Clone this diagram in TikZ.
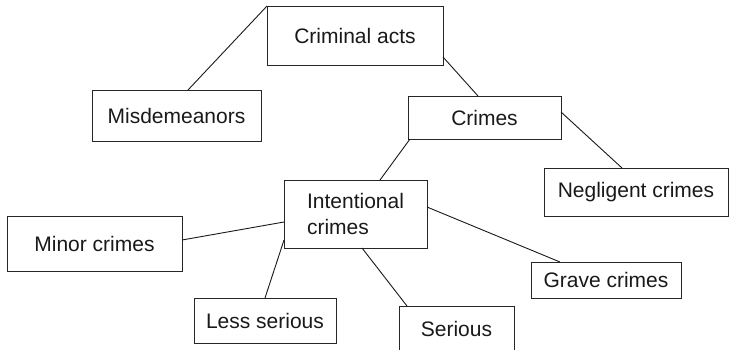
\documentclass[tikz,border=0pt]{standalone}
\usepackage{fontspec}
\setmainfont{Liberation Sans}
\begin{document}
\begin{tikzpicture}[x=1pt,y=-1pt,
  box/.style={draw=black!85,line width=1pt,rectangle,inner sep=0pt,outer sep=0pt,
    font=\fontsize{21}{26}\selectfont,text=black!90},
  link/.style={draw=black!90,line width=0.9pt}]
\useasboundingbox (0,0) rectangle (730,349);
\clip (0,0) rectangle (730,349);
\node[box,minimum width=176pt,minimum height=59pt] (acts) at (355,35.5) {Criminal acts};
\node[box,minimum width=169pt,minimum height=51pt] (mis) at (176.5,115.5) {Misdemeanors};
\node[box,minimum width=153pt,minimum height=43pt] (crimes) at (484.5,117.5) {Crimes};
\node[box,minimum width=184pt,minimum height=48pt] (neg) at (636,192) {Negligent crimes};
\node[box,minimum width=143pt,minimum height=68pt,align=left] (int) at (355.5,214) {Intentional\\crimes};
\node[box,minimum width=175pt,minimum height=55pt] (minor) at (94.5,243.5) {Minor crimes};
\node[box,minimum width=142pt,minimum height=45pt] (less) at (265,320.5) {Less serious};
\node[box,minimum width=150pt,minimum height=36pt] (grave) at (606,280) {Grave crimes};
\node[box,minimum width=115pt,minimum height=46pt] (serious) at (456.5,329) {Serious};
\draw[link] (acts.north west) -- ([xshift=11.5pt]mis.north);
\draw[link] ([yshift=-21.5pt]acts.east) -- ([xshift=-6.5pt]crimes.north);
\draw[link] ([yshift=5.5pt]crimes.east) -- ([xshift=-14pt]neg.north);
\draw[link] ([xshift=2pt]crimes.south west) -- ([xshift=24.5pt]int.north);
\draw[link] ([yshift=3.5pt]minor.east) -- ([yshift=-8pt]int.west);
\draw[link] ([yshift=-26pt]int.west) -- (less.north);
\draw[link] ([xshift=6.5pt]int.south) -- ([xshift=-49.5pt]serious.north);
\draw[link] ([yshift=7pt]int.east) -- ([xshift=-46pt]grave.north);
\end{tikzpicture}
\end{document}
